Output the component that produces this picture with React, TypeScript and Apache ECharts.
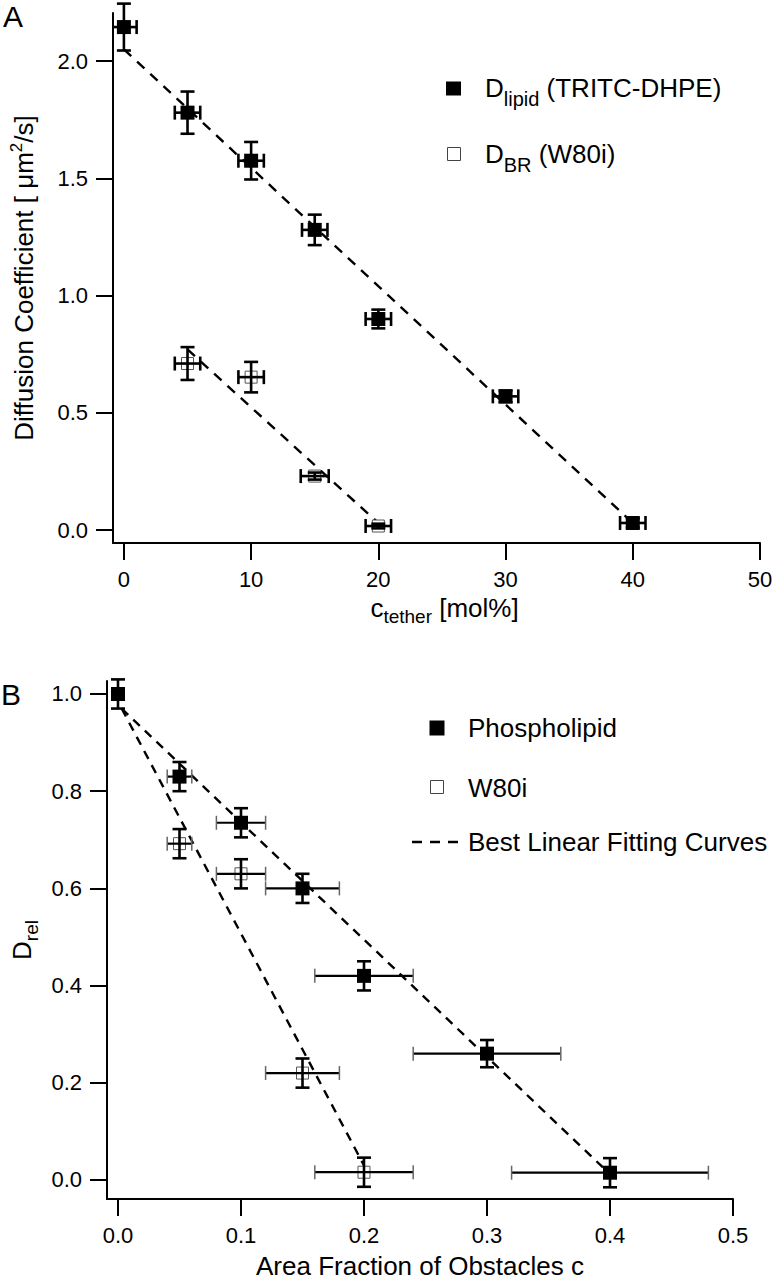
import React, { useEffect, useRef } from "react";
import * as echarts from "echarts";

// ---------- Panel A data ----------
const tetherTicks = [0, 10, 20, 30, 40, 50];
const diffTicks = [0, 0.5, 1.0, 1.5, 2.0];
const tetherConc = [0, 5, 10, 15, 20, 30, 40];
const lipidD = [2.145, 1.78, 1.575, 1.28, 0.9, 0.57, 0.03];
const lipidDErr = [0.1, 0.09, 0.08, 0.065, 0.04, 0.025, 0.02];
const lipidConcErr = [1, 1, 1, 1, 1, 1, 1];
const brConc = [5, 10, 15, 20];
const brD = [0.71, 0.652, 0.23, 0.017];
const brDErr = [0.07, 0.065, 0.015, 0.01];
const brConcErr = [1, 1, 1.1, 1];
const lipidFitConc = [0, 40];
const lipidFitD = [2.05, 0.03];
const brFitConc = [5, 20];
const brFitD = [0.77, 0.03];

// ---------- Panel B data ----------
const fracTicks = [0, 0.1, 0.2, 0.3, 0.4, 0.5];
const relTicks = [0, 0.2, 0.4, 0.6, 0.8, 1.0];
const areaFrac = [0, 0.05, 0.1, 0.15, 0.2, 0.3, 0.4];
const phosRel = [1.0, 0.83, 0.735, 0.6, 0.42, 0.26, 0.015];
const phosRelErr = [0.03, 0.03, 0.03, 0.03, 0.03, 0.028, 0.03];
const phosFracErr = [0, 0.01, 0.02, 0.03, 0.04, 0.06, 0.08];
const w80Frac = [0.05, 0.1, 0.15, 0.2];
const w80Rel = [0.692, 0.63, 0.22, 0.016];
const w80RelErr = [0.03, 0.03, 0.03, 0.03];
const w80FracErr = [0.01, 0.02, 0.03, 0.04];
const phosFitFrac = [0.003, 0.4];
const phosFitRel = [0.97, 0.012];
const w80FitFrac = [0.003, 0.2];
const w80FitRel = [0.97, 0.03];

const FONT = "'Liberation Sans', Arial, Helvetica, sans-serif";

const zip = (xs: number[], ys: number[]) => xs.map((x, i) => [x, ys[i]]);
const zipErr = (xs: number[], ys: number[], ex: number[], ey: number[]) =>
  xs.map((x, i) => [x, ys[i], ex[i], ey[i]]);

function errorRenderer(opts: {
  cap: number;
  vWidth: number;
  hWidth: number;
  hCapColor: string;
  hCapWidth: number;
}) {
  return (params: any, api: any) => {
    const x = api.value(0);
    const y = api.value(1);
    const ex = api.value(2);
    const ey = api.value(3);
    const cs = params.coordSys;
    const children: any[] = [];
    const black = { stroke: "#000", lineWidth: opts.vWidth };
    if (ey > 0) {
      const t = api.coord([x, y + ey]);
      const b = api.coord([x, y - ey]);
      children.push({ type: "line", shape: { x1: t[0], y1: t[1], x2: b[0], y2: b[1] }, style: black });
      children.push({ type: "line", shape: { x1: t[0] - opts.cap, y1: t[1], x2: t[0] + opts.cap, y2: t[1] }, style: black });
      children.push({ type: "line", shape: { x1: b[0] - opts.cap, y1: b[1], x2: b[0] + opts.cap, y2: b[1] }, style: black });
    }
    if (ex > 0) {
      const l = api.coord([x - ex, y]);
      const r = api.coord([x + ex, y]);
      const clipped = l[0] < cs.x;
      const lx = clipped ? cs.x : l[0];
      const hs = { stroke: "#000", lineWidth: opts.hWidth };
      const cs2 = { stroke: opts.hCapColor, lineWidth: opts.hCapWidth };
      children.push({ type: "line", shape: { x1: lx, y1: l[1], x2: r[0], y2: r[1] }, style: hs });
      if (!clipped) {
        children.push({ type: "line", shape: { x1: l[0], y1: l[1] - opts.cap, x2: l[0], y2: l[1] + opts.cap }, style: cs2 });
      }
      children.push({ type: "line", shape: { x1: r[0], y1: r[1] - opts.cap, x2: r[0], y2: r[1] + opts.cap }, style: cs2 });
    }
    return { type: "group", children };
  };
}

function axisCommon(ticks: number[], fmt: (v: number) => string) {
  return {
    type: "value" as const,
    axisLine: { onZero: false, lineStyle: { color: "#000", width: 2 } },
    axisTick: { customValues: ticks, length: 17, lineStyle: { color: "#000", width: 2 } },
    axisLabel: {
      customValues: ticks,
      margin: 25,
      fontSize: 22,
      color: "#000",
      fontFamily: FONT,
      formatter: (v: number) => fmt(v),
    },
    splitLine: { show: false },
  };
}

export default function App() {
  const ref = useRef<HTMLDivElement>(null);

  useEffect(() => {
    if (!ref.current) return;
    const chart = echarts.init(ref.current, undefined, { renderer: "svg" });

    const topErr = errorRenderer({ cap: 7, vWidth: 2.6, hWidth: 2.6, hCapColor: "#000", hCapWidth: 2.6 });
    const botErr = errorRenderer({ cap: 7, vWidth: 2.6, hWidth: 2.2, hCapColor: "#666", hCapWidth: 1.5 });

    const option: any = {
      animation: false,
      backgroundColor: "#fff",
      grid: [
        { left: 107, top: 13, width: 653, height: 530 },
        { left: 107, top: 681, width: 626, height: 518 },
      ],
      xAxis: [
        {
          ...axisCommon(tetherTicks, (v) => String(Math.round(v))),
          gridIndex: 0,
          min: -0.857,
          max: 50,
          name: "{b|c}{s|tether}{b| [mol%]}",
          nameLocation: "middle",
          nameGap: 46,
          nameTextStyle: {
            padding: [0, 0, 0, 16],
            rich: {
              b: { fontSize: 26, fontFamily: FONT, color: "#000" },
              s: { fontSize: 19, fontFamily: FONT, color: "#000", padding: [18, 0, 0, 0] },
            },
          },
        },
        {
          ...axisCommon(fracTicks, (v) => v.toFixed(1)),
          gridIndex: 1,
          min: -0.00894,
          max: 0.5,
          name: "Area Fraction of Obstacles c",
          nameLocation: "middle",
          nameGap: 54,
          nameTextStyle: { fontSize: 26, fontFamily: FONT, color: "#000" },
        },
      ],
      yAxis: [
        {
          ...axisCommon(diffTicks, (v) => v.toFixed(1)),
          gridIndex: 0,
          min: -0.0554,
          max: 2.205,
          name: "{b|Diffusion Coefficient [ μm}{p|2}{b|/s]}",
          nameLocation: "middle",
          nameGap: 74,
          nameTextStyle: {
            rich: {
              b: { fontSize: 26, fontFamily: FONT, color: "#000" },
              p: { fontSize: 17, fontFamily: FONT, color: "#000", padding: [0, 0, 14, 0] },
            },
          },
        },
        {
          ...axisCommon(relTicks, (v) => v.toFixed(1)),
          gridIndex: 1,
          min: -0.0391,
          max: 1.0267,
          name: "{b|D}{s|rel}",
          nameLocation: "middle",
          nameGap: 66,
          nameTextStyle: {
            rich: {
              b: { fontSize: 26, fontFamily: FONT, color: "#000" },
              s: { fontSize: 19, fontFamily: FONT, color: "#000", padding: [18, 0, 0, 0] },
            },
          },
        },
      ],
      series: [
        // ---- Panel A ----
        {
          type: "line", xAxisIndex: 0, yAxisIndex: 0, z: 1, symbol: "none", silent: true,
          data: zip(lipidFitConc, lipidFitD),
          lineStyle: { color: "#000", width: 2.4, type: [10, 8] },
        },
        {
          type: "line", xAxisIndex: 0, yAxisIndex: 0, z: 1, symbol: "none", silent: true,
          data: zip(brFitConc, brFitD),
          lineStyle: { color: "#000", width: 2.4, type: [10, 8] },
        },
        {
          type: "scatter", xAxisIndex: 0, yAxisIndex: 0, z: 2, symbol: "rect", symbolSize: 12,
          data: zip(brConc, brD),
          itemStyle: { color: "#fff", borderColor: "#555", borderWidth: 1, opacity: 1 },
        },
        {
          type: "custom", xAxisIndex: 0, yAxisIndex: 0, z: 3, clip: false,
          renderItem: topErr, encode: { x: 0, y: 1 },
          data: zipErr(brConc, brD, brConcErr, brDErr),
        },
        {
          type: "custom", xAxisIndex: 0, yAxisIndex: 0, z: 3, clip: false,
          renderItem: topErr, encode: { x: 0, y: 1 },
          data: zipErr(tetherConc, lipidD, lipidConcErr, lipidDErr),
        },
        {
          type: "scatter", xAxisIndex: 0, yAxisIndex: 0, z: 4, symbol: "rect", symbolSize: 14,
          data: zip(tetherConc, lipidD),
          itemStyle: { color: "#000", opacity: 1 },
        },
        // ---- Panel B ----
        {
          type: "line", xAxisIndex: 1, yAxisIndex: 1, z: 1, symbol: "none", silent: true,
          data: zip(phosFitFrac, phosFitRel),
          lineStyle: { color: "#000", width: 2.4, type: [9, 7] },
        },
        {
          type: "line", xAxisIndex: 1, yAxisIndex: 1, z: 1, symbol: "none", silent: true,
          data: zip(w80FitFrac, w80FitRel),
          lineStyle: { color: "#000", width: 2.4, type: [9, 7] },
        },
        {
          type: "scatter", xAxisIndex: 1, yAxisIndex: 1, z: 2, symbol: "rect", symbolSize: 12,
          data: zip(w80Frac, w80Rel),
          itemStyle: { color: "#fff", borderColor: "#555", borderWidth: 1, opacity: 1 },
        },
        {
          type: "custom", xAxisIndex: 1, yAxisIndex: 1, z: 3, clip: false,
          renderItem: botErr, encode: { x: 0, y: 1 },
          data: zipErr(w80Frac, w80Rel, w80FracErr, w80RelErr),
        },
        {
          type: "custom", xAxisIndex: 1, yAxisIndex: 1, z: 3, clip: false,
          renderItem: botErr, encode: { x: 0, y: 1 },
          data: zipErr(areaFrac, phosRel, phosFracErr, phosRelErr),
        },
        {
          type: "scatter", xAxisIndex: 1, yAxisIndex: 1, z: 4, symbol: "rect", symbolSize: 14,
          data: zip(areaFrac, phosRel),
          itemStyle: { color: "#000", opacity: 1 },
        },
      ],
      graphic: [
        { type: "text", x: 13, y: 16, style: { text: "A", fontSize: 30, fontFamily: FONT, fill: "#000", align: "center", verticalAlign: "middle" } },
        { type: "text", x: 11, y: 694, style: { text: "B", fontSize: 30, fontFamily: FONT, fill: "#000", align: "center", verticalAlign: "middle" } },
        // Legend A
        { type: "rect", shape: { x: 446, y: 81.5, width: 15, height: 14 }, style: { fill: "#000" } },
        {
          type: "text", x: 485, y: 88,
          style: {
            text: "{m|D}{s|lipid}{m| (TRITC-DHPE)}", verticalAlign: "middle", align: "left",
            rich: {
              m: { fontSize: 26, fontFamily: FONT, fill: "#000" },
              s: { fontSize: 20, fontFamily: FONT, fill: "#000", padding: [22, 0, 0, 0] },
            },
          },
        },
        { type: "rect", shape: { x: 447.5, y: 147.5, width: 13, height: 13 }, style: { fill: "#fff", stroke: "#444", lineWidth: 1 } },
        {
          type: "text", x: 485, y: 153.5,
          style: {
            text: "{m|D}{s|BR}{m| (W80i)}", verticalAlign: "middle", align: "left",
            rich: {
              m: { fontSize: 26, fontFamily: FONT, fill: "#000" },
              s: { fontSize: 20, fontFamily: FONT, fill: "#000", padding: [22, 0, 0, 0] },
            },
          },
        },
        // Legend B
        { type: "rect", shape: { x: 429.5, y: 720.5, width: 15, height: 15 }, style: { fill: "#000" } },
        { type: "text", x: 468, y: 728, style: { text: "Phospholipid", fontSize: 26, fontFamily: FONT, fill: "#000", verticalAlign: "middle" } },
        { type: "rect", shape: { x: 430.5, y: 780.5, width: 13, height: 13 }, style: { fill: "#fff", stroke: "#444", lineWidth: 1 } },
        { type: "text", x: 468, y: 788, style: { text: "W80i", fontSize: 26, fontFamily: FONT, fill: "#000", verticalAlign: "middle" } },
        { type: "line", shape: { x1: 412, y1: 842, x2: 458, y2: 842 }, style: { stroke: "#000", lineWidth: 2.5, lineDash: [10, 8] } },
        { type: "text", x: 468, y: 842, style: { text: "Best Linear Fitting Curves", fontSize: 26, fontFamily: FONT, fill: "#000", verticalAlign: "middle" } },
      ],
    };

    chart.setOption(option);
    return () => chart.dispose();
  }, []);

  return (
    <div
      ref={ref}
      style={{ position: "fixed", left: 0, top: 0, width: 777, height: 1280, background: "#fff" }}
    />
  );
}
